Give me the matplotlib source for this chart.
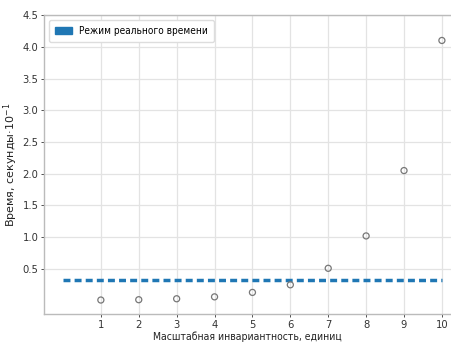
import matplotlib
matplotlib.use("Agg")
import matplotlib.pyplot as plt
from matplotlib.patches import Patch
from matplotlib import font_manager as fm

x_vals = [1, 2, 3, 4, 5, 6, 7, 8, 9, 10]
times = [0.01, 0.015, 0.03, 0.06, 0.13, 0.25, 0.51, 1.02, 2.05, 4.1]
realtime_x = [0, 10]
realtime_y = [0.33, 0.33]
y_ticks = [0.5, 1.0, 1.5, 2.0, 2.5, 3.0, 3.5, 4.0, 4.5]
legend_label = "Режим реального времени"

plt.rcParams['font.family'] = ['DejaVu Sans']
tickfont = fm.FontProperties(family='DejaVu Sans', stretch='condensed', size=8.0)
labfont = fm.FontProperties(family='DejaVu Sans', stretch='condensed', size=7.5)
legfont = fm.FontProperties(family='DejaVu Sans', stretch='condensed', size=7.2)
fig = plt.figure(figsize=(4.51, 3.42), dpi=100)
ax = fig.add_axes([0.0976, 0.0819, 0.9024, 0.874])

ax.grid(True, color='#e3e3e3', linewidth=0.9)
ax.set_axisbelow(True)
ax.plot(realtime_x, realtime_y, linestyle=(0, (2.0, 1.2)), color='#1f77b4', linewidth=2.5, zorder=2)
ax.scatter(x_vals, times, s=19, facecolors='none', edgecolors='#777777', linewidths=0.9, zorder=3)

ax.set_xlim(-0.5, 10.24)
ax.set_ylim(-0.21, 4.5)
ax.set_xticks(x_vals)
ax.set_yticks(y_ticks)
ax.tick_params(colors='#333333', length=2, width=0.6, pad=2)
for lab in ax.get_xticklabels() + ax.get_yticklabels():
    lab.set_fontproperties(tickfont)
for s in ax.spines.values():
    s.set_color('#bbbbbb')
    s.set_linewidth(1.0)
ax.spines['right'].set_visible(False)

ax.set_xlabel("Масштабная инвариантность, единиц", fontproperties=labfont, labelpad=1, color='#222222')
ax.set_ylabel("Время, секунды·10$^{-1}$", fontsize=8, color='#222222')
ax.yaxis.set_label_coords(-0.058, 0.5)

handle = Patch(facecolor='#1f77b4', edgecolor='#1f77b4')
ax.legend([handle], [legend_label], loc='upper left', prop=legfont, frameon=True,
          framealpha=1, edgecolor='#dddddd', handlelength=1.7, handleheight=0.6,
          handletextpad=0.7, borderpad=0.6, bbox_to_anchor=(0.0, 1.0))

fig.savefig("out.png", dpi=100)
